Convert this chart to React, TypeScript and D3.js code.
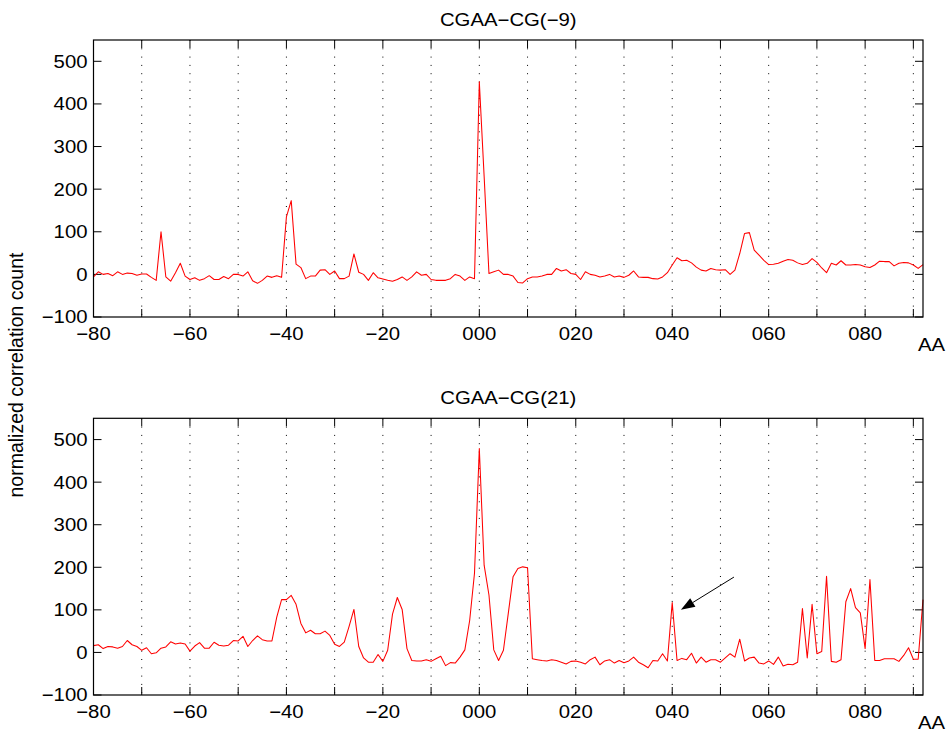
import React from 'react';
import * as d3 from 'd3';

const X_START = -80;
const X_END = 92;

// CGAA-CG(-9): values at positions -80 .. 92
const topValues = [
  -6, 6, 0, 2, -3, 6, 0, 3, 2, -2,
  1, 1, -7, -14, 100, -6, -16, 4, 26, -4,
  -12, -8, -14, -10, -3, -12, -12, -5, -10, 0,
  0, -4, 6, -15, -21, -14, -4, -7, -3, -7,
  135, 173, 24, 16, -10, -4, -4, 10, 11, 0,
  8, -10, -10, -4, 48, 5, 0, -14, 4, -8,
  -11, -14, -16, -12, -6, -14, -6, 6, -2, 0,
  -12, -14, -14, -14, -10, 0, -4, -14, -6, -10,
  452, 230, 2, 6, 10, 0, 0, -4, -19, -20,
  -10, -6, -6, -4, 0, 0, 14, 8, 11, 2,
  0, -12, 6, 0, -2, -6, -4, 0, -6, -4,
  -7, -2, 8, -6, -7, -7, -10, -11, -6, 4,
  22, 39, 32, 33, 27, 17, 10, 8, 14, 11,
  10, 11, 0, 10, 49, 96, 98, 57, 45, 33,
  23, 24, 26, 31, 35, 33, 27, 23, 26, 37,
  28, 15, 4, 26, 22, 32, 22, 22, 23, 22,
  18, 16, 22, 31, 30, 30, 20, 26, 28, 27,
  22, 14, 23,
];

// CGAA-CG(21): values at positions -80 .. 92
const bottomValues = [
  16, 18, 9, 14, 13, 10, 14, 28, 18, 14,
  5, 11, -3, -1, 10, 13, 25, 20, 22, 20,
  3, 15, 23, 10, 10, 24, 17, 15, 17, 28,
  27, 38, 14, 28, 39, 30, 27, 27, 83, 124,
  124, 134, 113, 68, 46, 52, 44, 44, 50, 40,
  19, 14, 24, 61, 101, 14, -13, -23, -23, -5,
  -21, 5, 90, 129, 101, 9, -19, -20, -20, -17,
  -21, -15, -9, -31, -24, -25, -11, 6, 75, 186,
  479, 205, 135, 6, -19, 5, 91, 178, 197, 201,
  199, -15, -17, -19, -20, -17, -19, -23, -27, -21,
  -20, -23, -27, -17, -11, -29, -20, -17, -25, -19,
  -24, -20, -11, -23, -29, -36, -19, -20, -3, -20,
  117, -19, -14, -17, -2, -25, -11, -23, -17, -17,
  -23, -13, -3, -11, 31, -20, -13, -11, -25, -27,
  -20, -28, -11, -32, -28, -29, -23, 103, -13, 113,
  -3, 2, 179, -21, -23, -17, 119, 150, 105, 93,
  9, 171, -19, -19, -15, -15, -15, -21, -7, 11,
  -16, -16, 124,
];

const xTickValues = d3.range(-80, 91, 10);
const xLabelValues = [-80, -60, -40, -20, 0, 20, 40, 60, 80];
const yTickValues = [-100, 0, 100, 200, 300, 400, 500];
const Y_DOMAIN = [-100, 550];
const titles = ['CGAA\u2212CG(\u22129)', 'CGAA\u2212CG(21)'];
const yAxisLabel = 'normalized correlation count';
const xAxisUnit = 'AA';
// annotation arrow (data coordinates) in the second panel
const arrowFrom = [52.8, 177];
const arrowTo = [41.8, 100];

const FONT = '"Liberation Sans", Arial, Helvetica, sans-serif';
const SX = 1.13;
const FS = 18;

const fmtX = (v: number) => (v < 0 ? '\u2212' + Math.abs(v) : String(v).padStart(3, '0'));
const fmtY = (v: number) => (v < 0 ? '\u2212' + Math.abs(v) : String(v));

function T({ x, y, anchor = 'middle', children, size = FS, dy }: any) {
  return (
    <text
      transform={`translate(${x},${y}) scale(${SX},1)`}
      textAnchor={anchor}
      fontSize={size}
      fontFamily={FONT}
      fill="#000"
      dy={dy}
    >
      {children}
    </text>
  );
}

const LEFT = 93.5;
const RIGHT = 923;

function Panel({ values, top, bottom, title, arrow }: any) {
  const x = d3.scaleLinear().domain([X_START, X_END]).range([LEFT, RIGHT]);
  const y = d3.scaleLinear().domain(Y_DOMAIN).range([bottom, top]);
  const data = values.map((v: number, i: number) => [X_START + i, v]);
  const line = d3
    .line<number[]>()
    .x((d) => x(d[0]))
    .y((d) => y(d[1]));
  const TL = 8;
  let arrowEls = null;
  if (arrow) {
    const x1 = x(arrowFrom[0]);
    const y1 = y(arrowFrom[1]);
    const x2 = x(arrowTo[0]);
    const y2 = y(arrowTo[1]);
    const ang = Math.atan2(y2 - y1, x2 - x1);
    const L = 14;
    const W = 5;
    const bx = x2 - L * Math.cos(ang);
    const by = y2 - L * Math.sin(ang);
    const px = -Math.sin(ang) * W;
    const py = Math.cos(ang) * W;
    arrowEls = (
      <g>
        <line x1={x1} y1={y1} x2={bx} y2={by} stroke="#000" strokeWidth={1} />
        <polygon points={`${x2},${y2} ${bx + px},${by + py} ${bx - px},${by - py}`} fill="#000" />
      </g>
    );
  }
  return (
    <g>
      {xTickValues
        .filter((v) => v > X_START)
        .map((v) => (
          <line
            key={'g' + v}
            x1={x(v)}
            x2={x(v)}
            y1={top}
            y2={bottom}
            stroke="#000"
            strokeWidth={1}
            strokeDasharray="1,7.3"
          />
        ))}
      {xTickValues.map((v) => (
        <g key={'xt' + v}>
          <line x1={x(v)} x2={x(v)} y1={bottom} y2={bottom - TL} stroke="#000" />
          <line x1={x(v)} x2={x(v)} y1={top} y2={top + TL} stroke="#000" />
        </g>
      ))}
      {yTickValues.map((v) => (
        <g key={'yt' + v}>
          <line x1={LEFT} x2={LEFT + TL} y1={y(v)} y2={y(v)} stroke="#000" />
          <line x1={RIGHT} x2={RIGHT - TL} y1={y(v)} y2={y(v)} stroke="#000" />
        </g>
      ))}
      <path d={line(data) || ''} fill="none" stroke="#ff0000" strokeWidth={1.05} strokeLinejoin="round" />
      <rect x={LEFT} y={top} width={RIGHT - LEFT} height={bottom - top} fill="none" stroke="#000" strokeWidth={1.2} />
      {arrowEls}
      {yTickValues.map((v) => (
        <T key={'yl' + v} x={LEFT - 6} y={y(v)} anchor="end" dy="0.36em">
          {fmtY(v)}
        </T>
      ))}
      {xLabelValues.map((v) => (
        <T key={'xl' + v} x={x(v)} y={bottom + 23}>
          {fmtX(v)}
        </T>
      ))}
      <T x={918} y={bottom + 34} anchor="start">
        {xAxisUnit}
      </T>
      <T x={(LEFT + RIGHT) / 2} y={top - 14}>
        {title}
      </T>
    </g>
  );
}

export default function App() {
  return (
    <svg
      width={949}
      height={735}
      style={{ position: 'absolute', left: 0, top: 0, background: '#fff' }}
    >
      <rect x={0} y={0} width={949} height={735} fill="#fff" />
      <Panel values={topValues} top={40} bottom={317} title={titles[0]} />
      <Panel values={bottomValues} top={418.3} bottom={695} title={titles[1]} arrow />
      <text
        transform="translate(23,375) rotate(-90)"
        textAnchor="middle"
        fontSize={19.5}
        fontFamily={FONT}
        fill="#000"
      >
        {yAxisLabel}
      </text>
    </svg>
  );
}
